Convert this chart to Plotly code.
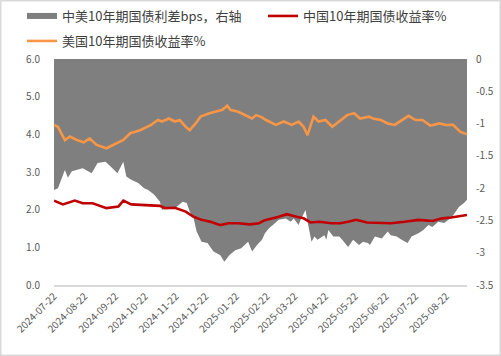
import plotly.graph_objects as go

# ---- data ----
spread_dates = ["2024-07-22","2024-07-26","2024-08-02","2024-08-05","2024-08-09","2024-08-20","2024-08-29",
    "2024-09-04","2024-09-12","2024-09-19","2024-09-24","2024-09-30","2024-10-03","2024-10-08","2024-10-15",
    "2024-10-21","2024-10-25","2024-10-31","2024-11-06","2024-11-08","2024-11-15","2024-11-21","2024-11-29",
    "2024-12-03","2024-12-06","2024-12-10","2024-12-13","2024-12-18","2024-12-24","2024-12-30","2025-01-06",
    "2025-01-10","2025-01-15","2025-01-21","2025-01-27","2025-02-03","2025-02-07","2025-02-12","2025-02-17",
    "2025-02-20","2025-02-24","2025-02-28","2025-03-06","2025-03-13","2025-03-18","2025-03-21","2025-03-26",
    "2025-03-28","2025-04-02","2025-04-04","2025-04-08","2025-04-11","2025-04-14","2025-04-21","2025-04-23",
    "2025-04-25","2025-04-30","2025-05-06","2025-05-09","2025-05-15","2025-05-20","2025-05-26","2025-05-30",
    "2025-06-04","2025-06-06","2025-06-11","2025-06-18","2025-06-24","2025-06-27","2025-07-03","2025-07-08",
    "2025-07-14","2025-07-18","2025-07-25","2025-07-30","2025-08-04","2025-08-08","2025-08-14","2025-08-20",
    "2025-08-26","2025-08-29","2025-09-04","2025-09-09","2025-09-12"]
spread_values = [-2.03,-2.00,-1.72,-1.84,-1.74,-1.69,-1.77,
    -1.61,-1.59,-1.69,-1.77,-1.59,-1.82,-1.87,-1.92,
    -2.00,-2.03,-2.10,-2.21,-2.34,-2.29,-2.31,-2.21,
    -2.23,-2.36,-2.47,-2.67,-2.83,-2.85,-2.98,-3.04,
    -3.14,-3.04,-2.96,-2.93,-2.83,-2.98,-2.88,-2.80,
    -2.70,-2.62,-2.57,-2.49,-2.47,-2.52,-2.47,-2.57,
    -2.49,-2.34,-2.52,-2.83,-2.75,-2.80,-2.73,-2.80,
    -2.65,-2.75,-2.75,-2.80,-2.91,-2.80,-2.88,-2.83,
    -2.85,-2.88,-2.75,-2.78,-2.67,-2.73,-2.75,-2.80,
    -2.85,-2.75,-2.70,-2.65,-2.57,-2.60,-2.52,-2.54,
    -2.47,-2.42,-2.29,-2.23,-2.18]

cn_dates = ["2024-07-22","2024-07-31","2024-08-12","2024-08-20","2024-08-30","2024-09-13","2024-09-25",
    "2024-09-30","2024-10-08","2024-10-21","2024-11-01","2024-11-06","2024-11-11","2024-11-21","2024-12-02",
    "2024-12-10","2024-12-18","2024-12-27","2025-01-06","2025-01-14","2025-01-24","2025-02-05","2025-02-14",
    "2025-02-20","2025-03-06","2025-03-14","2025-03-24","2025-03-31","2025-04-07","2025-04-16","2025-04-28",
    "2025-05-07","2025-05-15","2025-05-23","2025-06-03","2025-06-16","2025-06-27","2025-07-11","2025-07-25",
    "2025-08-08","2025-08-18","2025-08-27","2025-09-08","2025-09-12"]
cn_values = [2.24,2.14,2.24,2.17,2.17,2.04,2.08,
    2.24,2.14,2.12,2.12,2.10,2.04,2.05,1.95,
    1.81,1.73,1.68,1.59,1.64,1.64,1.61,1.64,
    1.72,1.81,1.88,1.81,1.77,1.66,1.68,1.64,
    1.64,1.68,1.73,1.66,1.64,1.64,1.68,1.73,
    1.70,1.77,1.79,1.84,1.86]

us_dates = ["2024-07-22","2024-07-26","2024-08-02","2024-08-07","2024-08-14","2024-08-21","2024-08-27",
    "2024-09-03","2024-09-13","2024-09-23","2024-09-30","2024-10-07","2024-10-17","2024-10-28","2024-11-04",
    "2024-11-08","2024-11-15","2024-11-21","2024-11-26","2024-12-02","2024-12-06","2024-12-12","2024-12-17",
    "2024-12-26","2025-01-02","2025-01-08","2025-01-13","2025-01-16","2025-01-24","2025-01-31","2025-02-07",
    "2025-02-11","2025-02-17","2025-02-21","2025-03-03","2025-03-11","2025-03-19","2025-03-26","2025-03-31",
    "2025-04-04","2025-04-10","2025-04-15","2025-04-22","2025-04-29","2025-05-06","2025-05-14","2025-05-21",
    "2025-05-27","2025-06-05","2025-06-09","2025-06-17","2025-06-24","2025-07-01","2025-07-09","2025-07-15",
    "2025-07-22","2025-07-29","2025-08-06","2025-08-15","2025-08-22","2025-08-29","2025-09-05","2025-09-12"]
us_values = [4.25,4.20,3.85,3.94,3.85,3.79,3.89,
    3.72,3.63,3.76,3.85,4.03,4.11,4.25,4.38,
    4.34,4.42,4.34,4.38,4.20,4.11,4.29,4.47,
    4.56,4.60,4.65,4.76,4.65,4.60,4.51,4.42,
    4.51,4.45,4.38,4.25,4.34,4.25,4.34,4.20,
    3.98,4.47,4.34,4.38,4.20,4.34,4.51,4.56,
    4.42,4.47,4.42,4.38,4.29,4.25,4.38,4.49,
    4.38,4.38,4.23,4.29,4.25,4.25,4.07,4.00]

x_tickvals = ["2024-07-22","2024-08-22","2024-09-22","2024-10-22","2024-11-22","2024-12-22","2025-01-22",
    "2025-02-22","2025-03-22","2025-04-22","2025-05-22","2025-06-22","2025-07-22","2025-08-22"]
left_tickvals = [0, 1, 2, 3, 4, 5, 6]
left_ticktext = ["0.0", "1.0", "2.0", "3.0", "4.0", "5.0", "6.0"]
right_tickvals = [0, -0.5, -1, -1.5, -2, -2.5, -3, -3.5]
right_ticktext = ["0", "-0.5", "-1", "-1.5", "-2", "-2.5", "-3", "-3.5"]

names = ["中美10年期国债利差bps，右轴", "中国10年期国债收益率%", "美国10年期国债收益率%"]

FONT = "Noto Sans CJK SC"
TXT = "#595959"

fig = go.Figure()
fig.add_trace(go.Scatter(x=spread_dates, y=spread_values, name=names[0], mode="none",
                         fill="tozeroy", fillcolor="#7F7F7F", yaxis="y", legend="legend"))
fig.add_trace(go.Scatter(x=cn_dates, y=cn_values, name=names[1], mode="lines",
                         line=dict(color="#C00000", width=2.6), yaxis="y2", legend="legend2"))
fig.add_trace(go.Scatter(x=us_dates, y=us_values, name=names[2], mode="lines",
                         line=dict(color="#F79646", width=2.6), yaxis="y2", legend="legend3"))

L, R, T, B = 54, 34, 59, 71
W, H = 501, 356
pw, ph = W - L - R, H - T - B

leg_common = dict(orientation="h", xanchor="left", yanchor="top",
                  font=dict(family=FONT, size=13, color="#404040"),
                  bgcolor="rgba(0,0,0,0)", borderwidth=0, itemwidth=30)

def px_x(p):
    return (p - L) / pw

def px_y(p):
    return 1 + (T - p) / ph

fig.update_layout(
    width=W, height=H,
    margin=dict(l=L, r=R, t=T, b=B, pad=0, autoexpand=False),
    paper_bgcolor="white", plot_bgcolor="white",
    font=dict(family=FONT, size=10, color=TXT),
    showlegend=True,
    hovermode=False,
    legend=dict(x=px_x(22), y=px_y(1), **leg_common),
    legend2=dict(x=px_x(263), y=px_y(1), **leg_common),
    legend3=dict(x=px_x(22), y=px_y(26), **leg_common),
    xaxis=dict(type="date", range=["2024-07-22", "2025-09-12"], automargin=False,
               tickvals=x_tickvals, ticktext=x_tickvals, tickangle=-45,
               showgrid=False, zeroline=False, showline=True, linecolor="#D9D9D9", linewidth=1.5,
               ticks="", tickfont=dict(size=10, color=TXT)),
    yaxis=dict(side="right", range=[-3.5, 0], tickvals=right_tickvals, ticktext=right_ticktext,
               showgrid=False, zeroline=False, showline=False, ticks="", automargin=False,
               tickfont=dict(size=10, color=TXT), ticklabelstandoff=8),
    yaxis2=dict(side="left", overlaying="y", range=[0, 6], tickvals=left_tickvals, ticktext=left_ticktext,
                showgrid=False, zeroline=False, showline=False, ticks="", automargin=False,
                tickfont=dict(size=10, color=TXT), ticklabelstandoff=13),
    shapes=[dict(type="rect", xref="paper", yref="paper",
                 x0=-L / pw, x1=1 + R / pw, y0=-B / ph, y1=1 + T / ph,
                 line=dict(color="#D9D9D9", width=3), fillcolor="rgba(0,0,0,0)", layer="above")],
)

fig.write_html("out.html", config={"displayModeBar": False, "staticPlot": True},
               post_script="document.body.style.margin='0';document.body.style.padding='0';")
